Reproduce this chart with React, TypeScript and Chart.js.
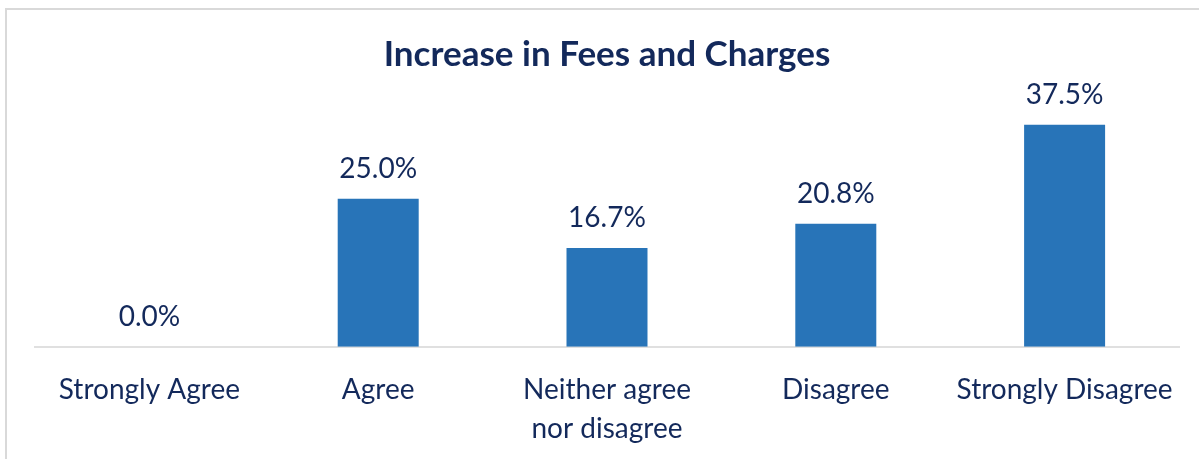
import React, { useEffect, useRef } from "react";
import { Chart, registerables } from "chart.js";

Chart.register(...registerables);

const categories: (string | string[])[] = [
  "Strongly Agree",
  "Agree",
  ["Neither agree", "nor disagree"],
  "Disagree",
  "Strongly Disagree",
];
const values: number[] = [0.0, 25.0, 16.7, 20.8, 37.5];
const titleText = "Increase in Fees and Charges";

const TEXT = "#13295B";
const BAR = "#2874B8";

const dataLabelPlugin = {
  id: "dataLabels",
  afterDatasetsDraw(chart: any) {
    const ctx = chart.ctx;
    const meta = chart.getDatasetMeta(0);
    ctx.save();
    ctx.font = "28px Lato";
    ctx.fillStyle = TEXT;
    ctx.textAlign = "center";
    ctx.textBaseline = "alphabetic";
    meta.data.forEach((bar: any, i: number) => {
      ctx.fillText(values[i].toFixed(1) + "%", bar.x, bar.y - 21);
    });
    ctx.restore();
  },
};

export default function App() {
  const ref = useRef<HTMLCanvasElement | null>(null);
  useEffect(() => {
    if (!ref.current) return;
    const chart = new Chart(ref.current, {
      type: "bar",
      data: {
        labels: categories,
        datasets: [
          {
            data: values,
            backgroundColor: BAR,
            borderWidth: 0,
            categoryPercentage: 1,
            barPercentage: 0.354,
          },
        ],
      },
      options: {
        animation: false,
        responsive: false,
        maintainAspectRatio: false,
        layout: { padding: { left: 35, right: 20, top: 0, bottom: -5 } },
        plugins: {
          legend: { display: false },
          tooltip: { enabled: false },
          title: {
            display: true,
            text: titleText,
            color: TEXT,
            font: { family: "Lato", size: 35, weight: "bold", lineHeight: 1.2 },
            padding: { top: 34, bottom: 34 },
          },
        },
        scales: {
          x: {
            grid: { display: false },
            border: { display: true, color: "#E0E0E0", width: 2 },
            ticks: {
              color: TEXT,
              font: { family: "Lato", size: 28, lineHeight: 1.379 },
              padding: 16,
              maxRotation: 0,
              autoSkip: false,
            },
          },
          y: {
            display: false,
            min: 0,
            max: 40,
          },
        },
      },
      plugins: [dataLabelPlugin],
    });
    return () => chart.destroy();
  }, []);

  return (
    <div style={{ position: "fixed", left: 0, top: 0, width: 1199, height: 459, background: "#fff", overflow: "hidden" }}>
      <div
        style={{
          position: "absolute",
          left: 5,
          top: 8,
          width: 1400,
          height: 600,
          borderLeft: "2px solid #D9D9D9",
          borderTop: "2px solid #D9D9D9",
        }}
      />
      <canvas ref={ref} width={1199} height={459} style={{ position: "absolute", left: 0, top: 0 }} />
    </div>
  );
}
